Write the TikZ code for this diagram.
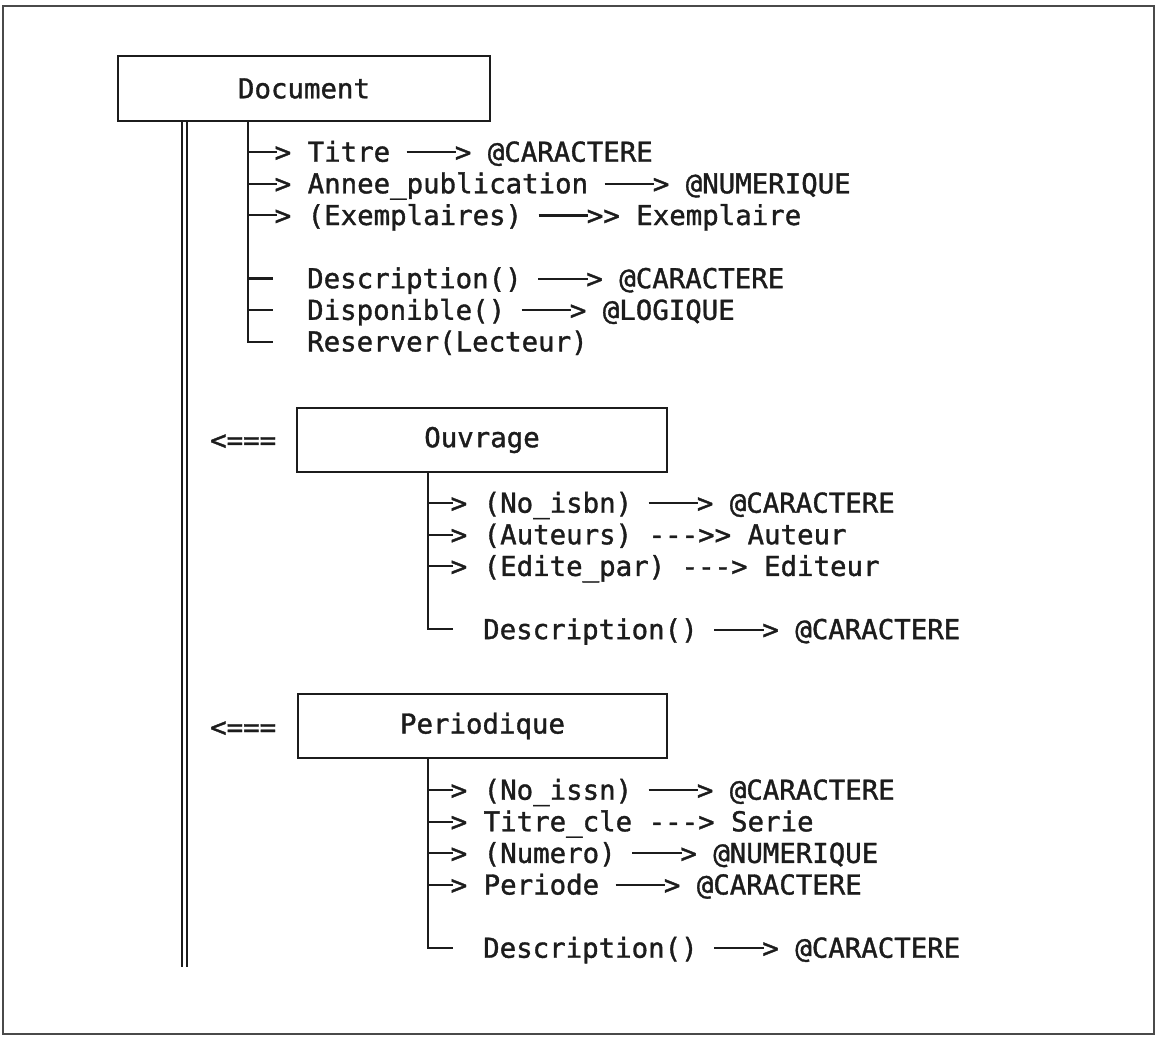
\documentclass[tikz,border=0pt]{standalone}
\usepackage{fontspec}
\setmonofont[FakeBold=1.3]{DejaVu Sans Mono}
\usetikzlibrary{calc}

\definecolor{ink}{HTML}{1C1C1C}
\definecolor{framegray}{HTML}{4A4A4A}

% width of one character cell of the typewriter face
\newlength\cw
\newcommand\monotext{\ttfamily\fontsize{27.4}{32}\selectfont\settowidth\cw{M}}
% solid arrow: a three-cell rule closed by '>'
\newcommand\solid{\rule[0.31em]{3\cw}{0.075em}\kern-0.08\cw>}

\tikzset{
  frame/.style={draw=framegray, line width=2.4pt},
  classbox/.style={draw=ink, line width=2.1pt, inner sep=0pt, text=ink,
    font=\monotext, minimum height=64pt},
  row/.style={anchor=base west, inner sep=0pt, text=ink, font=\monotext},
  wire/.style={draw=ink, line width=2.1pt},
  inherit/.style={draw=ink, line width=1.9pt, double=white, double distance=3pt},
}

\begin{document}
\begin{tikzpicture}[x=1pt, y=-1pt]
  \useasboundingbox (0,0) rectangle (1156,1036);
  \draw[frame] (3,6) rectangle (1154,1034);

  % ---------- class boxes ----------
  \node[classbox, minimum width=372pt, minimum height=65pt] (doc) at (304,88.5) {Document};
  \node[classbox, minimum width=370pt] (ouv) at (482,440) {Ouvrage};
  \node[classbox, minimum width=369pt] (per) at (482.5,726) {Periodique};

  % ---------- inheritance spine ----------
  \coordinate (inhend) at (184.5,967);
  \draw[inherit] (doc.south west -| inhend) -- (inhend);
  \node[row] (ouvinh) at (210,449.7) {<===};
  \node[row] (perinh) at (210,736.7) {<===};

  % ---------- Document members ----------
  \node[row] (d1) at (274.5,161.7) {>\ Titre \solid\ @CARACTERE};
  \node[row] (d2) at (274.5,193.3) {>\ Annee\_publication \solid\ @NUMERIQUE};
  \node[row] (d3) at (274.5,225.0) {>\ (Exemplaires) \solid>\ Exemplaire};
  \node[row] (d4) at (307,288.2) {Description() \solid\ @CARACTERE};
  \node[row] (d5) at (307,319.8) {Disponible() \solid\ @LOGIQUE};
  \node[row] (d6) at (307,351.4) {Reserver(Lecteur)};

  \coordinate (dtx) at (248,0);
  \draw[wire] (doc.south -| dtx) |- ($(d6.base west)+(-34,-9.7)$);
  \foreach \r in {d1,d2,d3}
    \draw[wire] ($(d6.base west |- \r.base)+(-59,-9.7)$) -- ($(\r.base west)+(2,-9.7)$);
  \foreach \r in {d4,d5}
    \draw[wire] ($(\r.base west)+(-59,-9.7)$) -- ($(\r.base west)+(-34,-9.7)$);

  % ---------- Ouvrage members ----------
  \node[row] (o1) at (450.5,512.7) {>\ (No\_isbn) \solid\ @CARACTERE};
  \node[row] (o2) at (450.5,544.3) {>\ (Auteurs) --->>\ Auteur};
  \node[row] (o3) at (450.5,575.9) {>\ (Edite\_par) --->\ Editeur};
  \node[row] (o4) at (483,639.1) {Description() \solid\ @CARACTERE};

  \coordinate (otx) at (428,0);
  \draw[wire] (ouv.south -| otx) |- ($(o4.base west)+(-30,-9.7)$);
  \foreach \r in {o1,o2,o3}
    \draw[wire] ($(o4.base west |- \r.base)+(-55,-9.7)$) -- ($(\r.base west)+(2,-9.7)$);

  % ---------- Periodique members ----------
  \node[row] (p1) at (450.5,799.7) {>\ (No\_issn) \solid\ @CARACTERE};
  \node[row] (p2) at (450.5,831.3) {>\ Titre\_cle --->\ Serie};
  \node[row] (p3) at (450.5,862.9) {>\ (Numero) \solid\ @NUMERIQUE};
  \node[row] (p4) at (450.5,894.5) {>\ Periode \solid\ @CARACTERE};
  \node[row] (p5) at (483,957.7) {Description() \solid\ @CARACTERE};

  \draw[wire] (per.south -| otx) |- ($(p5.base west)+(-30,-9.7)$);
  \foreach \r in {p1,p2,p3,p4}
    \draw[wire] ($(p5.base west |- \r.base)+(-55,-9.7)$) -- ($(\r.base west)+(2,-9.7)$);
\end{tikzpicture}
\end{document}
